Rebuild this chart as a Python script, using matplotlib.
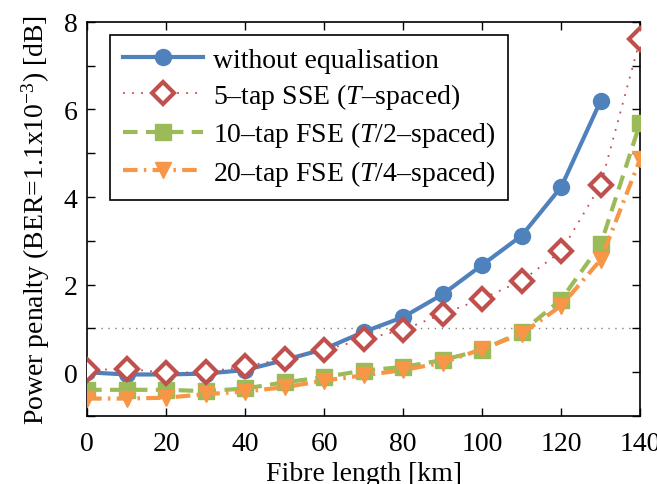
import matplotlib
matplotlib.use("Agg")
import matplotlib.pyplot as plt
from matplotlib.ticker import MultipleLocator

plt.rcParams['font.family'] = ['Liberation Serif', 'DejaVu Serif']
plt.rcParams['mathtext.fontset'] = 'custom'
plt.rcParams['mathtext.rm'] = 'Liberation Serif'
plt.rcParams['mathtext.it'] = 'Liberation Serif:italic'

# Fibre length [km]
length_km = [0, 10, 20, 30, 40, 50, 60, 70, 80, 90, 100, 110, 120, 130, 140]

# Power penalty [dB]
no_eq = [0.0, -0.05, -0.05, -0.03, 0.05, 0.28, 0.53, 0.92, 1.26, 1.78, 2.45, 3.12, 4.23, 6.2]
sse_5tap = [0.05, 0.08, -0.01, 0.0, 0.14, 0.30, 0.51, 0.75, 0.97, 1.33, 1.68, 2.09, 2.76, 4.28, 7.61]
fse_10tap = [-0.40, -0.40, -0.40, -0.43, -0.37, -0.23, -0.11, 0.04, 0.12, 0.28, 0.51, 0.92, 1.66, 2.92, 5.70]
fse_20tap = [-0.60, -0.60, -0.58, -0.50, -0.44, -0.34, -0.19, -0.07, 0.05, 0.22, 0.53, 0.88, 1.52, 2.57, 4.87]

threshold_db = 1.0

labels = [
    'without equalisation',
    '5\u2013tap SSE ($\\mathit{T}$\u2013spaced)',
    '10\u2013tap FSE ($\\mathit{T}$/2\u2013spaced)',
    '20\u2013tap FSE ($\\mathit{T}$/4\u2013spaced)',
]

blue = '#4F81BD'
red = '#C0504D'
green = '#9BBB59'
orange = '#F79646'

fig = plt.figure(figsize=(6.57, 4.85), dpi=100)
ax = fig.add_axes([0.1325, 0.140, 0.842, 0.813])

ax.axhline(threshold_db, color='#808080', linestyle=(0, (1, 4)), linewidth=1.0, zorder=1)

ax.plot(length_km[:len(no_eq)], no_eq, color=blue, linestyle='-', linewidth=3,
        marker='o', markersize=11.5, markerfacecolor=blue, markeredgecolor=blue,
        label=labels[0], zorder=3)
ax.plot(length_km, sse_5tap, color=red, linestyle=(0, (1, 4)), linewidth=1.3,
        marker='D', markersize=11, markerfacecolor='white', markeredgecolor=red,
        markeredgewidth=3, label=labels[1], zorder=4)
ax.plot(length_km, fse_10tap, color=green, linestyle=(0, (3.5, 2)), linewidth=3,
        marker='s', markersize=11, markerfacecolor=green, markeredgecolor=green,
        label=labels[2], zorder=3)
ax.plot(length_km, fse_20tap, color=orange, linestyle=(0, (3.5, 1.5, 0.6, 1.5)), linewidth=3,
        marker='v', markersize=12, markerfacecolor=orange, markeredgecolor=orange,
        label=labels[3], zorder=3)

ax.set_xlim(0, 140)
ax.set_ylim(-1, 8)
ax.xaxis.set_major_locator(MultipleLocator(20))
ax.yaxis.set_major_locator(MultipleLocator(2))
ax.yaxis.set_minor_locator(MultipleLocator(1))
ax.tick_params(which='both', direction='in', top=True, right=True, labelsize=20,
               width=1, length=6)
ax.tick_params(axis='x', which='major', pad=11)
ax.tick_params(axis='y', which='major', pad=7)
for s in ax.spines.values():
    s.set_linewidth(1.2)

ax.set_xlabel('Fibre length [km]', fontsize=20, labelpad=3)
ax.set_ylabel('Power penalty (BER=1.1x10$^{-3}$) [dB]', fontsize=20, labelpad=8)

leg = ax.legend(loc='upper left', bbox_to_anchor=(0.0416, 0.967), fontsize=20,
                frameon=True, fancybox=False, edgecolor='black', framealpha=1,
                handlelength=2.9, handletextpad=0.35, labelspacing=0.3,
                borderpad=0.45, borderaxespad=0, numpoints=1)
leg.get_frame().set_linewidth(1.2)

fig.savefig('out.png', dpi=100)
